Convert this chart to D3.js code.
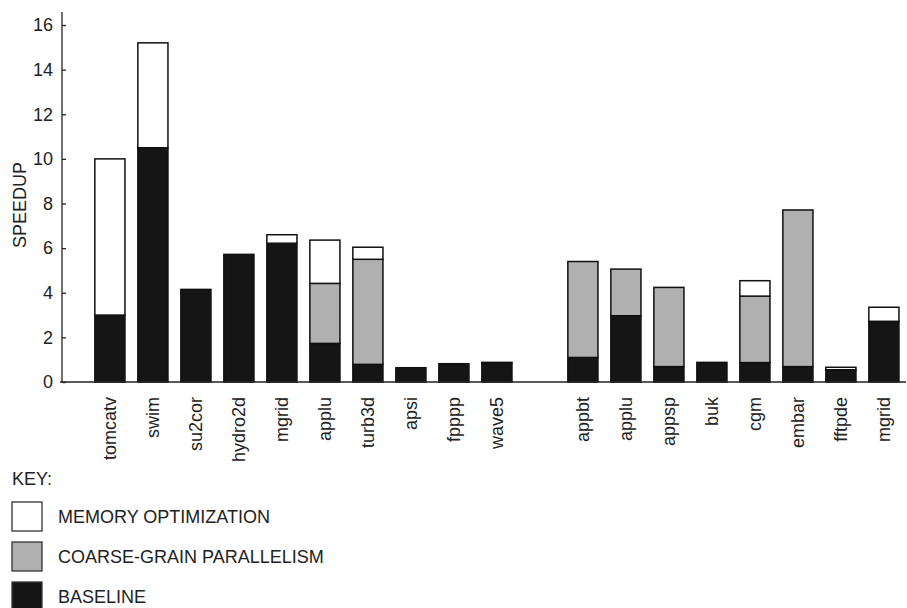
<!DOCTYPE html>
<html>
<head>
<meta charset="utf-8">
<script src="https://cdn.jsdelivr.net/npm/d3@7/dist/d3.min.js"></script>
<style>
  html, body { margin: 0; padding: 0; background: #fff; }
  svg { display: block; }
  text { font-family: "Liberation Sans", Arial, sans-serif; fill: #222; }
</style>
</head>
<body>
<svg id="chart" width="907" height="608"></svg>
<script>
// ---- data ----
const benchmarks = ["tomcatv","swim","su2cor","hydro2d","mgrid","applu","turb3d","apsi","fpppp","wave5",
                    "appbt","applu","appsp","buk","cgm","embar","fftpde","mgrid"];
const groupOf =    [0,0,0,0,0,0,0,0,0,0, 1,1,1,1,1,1,1,1];
const baseline =   [3.0, 10.5, 4.15, 5.72, 6.22, 1.73, 0.79, 0.64, 0.82, 0.86,
                    1.1, 2.97, 0.69, 0.88, 0.87, 0.69, 0.55, 2.72];
const coarseGrain= [0,   0,    0,    0,    0,    2.69, 4.71, 0,    0,    0,
                    4.3, 2.09, 3.55, 0,    2.98, 7.02, 0,    0];
const memoryOpt =  [7.0, 4.7,  0,    0,    0.38, 1.94, 0.54, 0,    0,    0.02,
                    0,   0,    0,    0,    0.69, 0,    0.11, 0.63];
const yTicks = [0,2,4,6,8,10,12,14,16];
const seriesKeys = ["baseline","coarse","memory"];
const seriesNames = ["MEMORY OPTIMIZATION","COARSE-GRAIN PARALLELISM","BASELINE"];
const legendKeys = ["memory","coarse","baseline"];
const colors = {baseline:"#151515", coarse:"#b0b0b0", memory:"#ffffff"};

// ---- build ----
const svg = d3.select("#chart");
const slotKeys = [];
benchmarks.forEach((b,i) => {
  if (i > 0 && groupOf[i] !== groupOf[i-1]) slotKeys.push("gap" + i);
  slotKeys.push(i);
});
const rows = benchmarks.map((b,i) => ({id:i, name:b, baseline:baseline[i], coarse:coarseGrain[i], memory:memoryOpt[i]}));

const x = d3.scaleBand().domain(slotKeys).range([88.4, 88.4 + 43*slotKeys.length])
  .paddingInner(0.3).paddingOuter(0.15);
const y = d3.scaleLinear().domain([0,16]).range([382, 25]);

const stack = d3.stack().keys(seriesKeys)(rows);

svg.append("g").selectAll("g").data(stack).join("g")
  .attr("fill", d => colors[d.key])
  .selectAll("rect").data(d => d.filter(s => s[1] - s[0] > 0)).join("rect")
  .attr("x", d => x(d.data.id))
  .attr("width", x.bandwidth())
  .attr("y", d => y(d[1]))
  .attr("height", d => y(d[0]) - y(d[1]))
  .attr("stroke", "#111")
  .attr("stroke-width", 1.5);

// y axis
const yAxis = d3.axisLeft(y).tickValues(yTicks).tickSizeInner(-4).tickSizeOuter(0).tickPadding(9);
const gy = svg.append("g").attr("transform","translate(62,0)").call(yAxis);
gy.select(".domain").remove();
gy.selectAll(".tick line").attr("stroke","#222").attr("stroke-width",1.3);
gy.selectAll(".tick text").style("font-size","18px").attr("fill","#222")
  .style("font-family","'Liberation Sans', Arial, sans-serif");
svg.append("line").attr("x1",62).attr("x2",62).attr("y1",12).attr("y2",y(0))
  .attr("stroke","#222").attr("stroke-width",1.3);

// x axis baseline
svg.append("line").attr("x1",60).attr("x2",906).attr("y1",y(0)).attr("y2",y(0))
  .attr("stroke","#222").attr("stroke-width",1.5);

// x labels
svg.append("g").selectAll("text").data(rows).join("text")
  .attr("transform", d => `translate(${x(d.id) + x.bandwidth()/2},397) rotate(-90)`)
  .attr("text-anchor","end").attr("dy","0.35em")
  .style("font-size","18px")
  .text(d => d.name);

// y title
svg.append("text").attr("transform","translate(20,205) rotate(-90)")
  .attr("text-anchor","middle").attr("dy","0.35em").style("font-size","18px")
  .text("SPEEDUP");

// legend
svg.append("text").attr("x",12).attr("y",485).style("font-size","18px").text("KEY:");
const lg = svg.append("g").selectAll("g").data(legendKeys).join("g")
  .attr("transform",(d,i) => `translate(12,${502 + i*40})`);
lg.append("rect").attr("width",30).attr("height",29)
  .attr("fill", d => colors[d]).attr("stroke","#333").attr("stroke-width",1.3);
lg.append("text").attr("x",46).attr("y",21).style("font-size","18px")
  .text((d,i) => seriesNames[i]);
</script>
</body>
</html>
